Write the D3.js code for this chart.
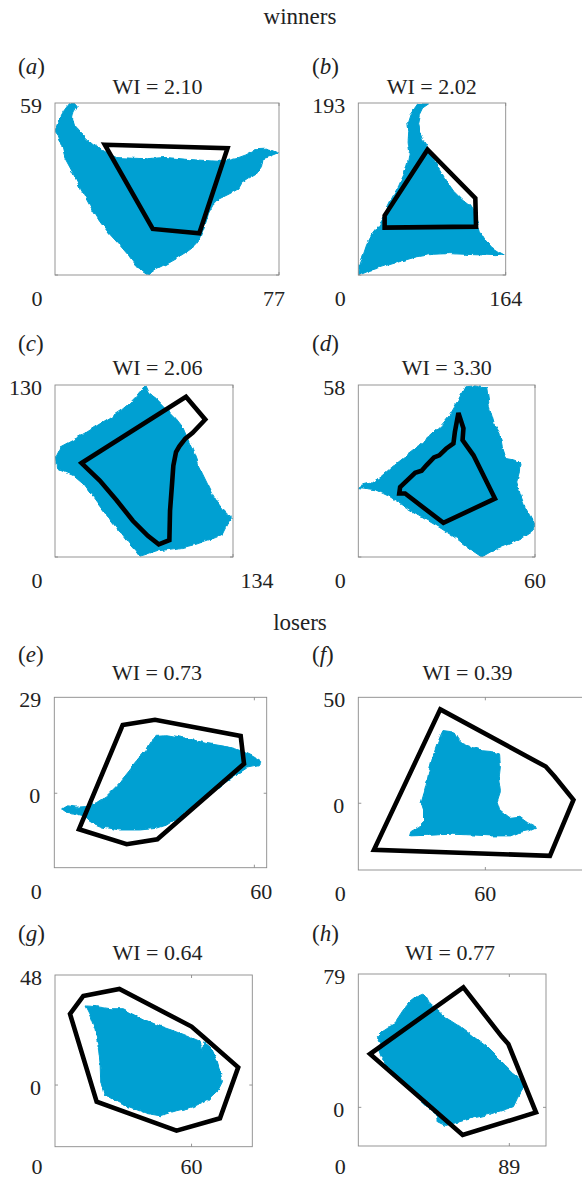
<!DOCTYPE html>
<html>
<head>
<meta charset="utf-8">
<script src="https://d3js.org/d3.v7.min.js"></script>
<style>
  body { margin: 0; background: #fff; }
  text { font-family: 'Liberation Serif', 'Times New Roman', serif; fill: #222; }
  .blob { fill: #00a0d2; stroke: #00a0d2; stroke-width: 1; }
  .hull { fill: none; stroke: #000; stroke-width: 4.6; stroke-linejoin: miter; }
  .frame { fill: none; stroke: #8a8a8a; stroke-width: 0.9; }
  .tick { stroke: #8a8a8a; stroke-width: 0.9; }
</style>
</head>
<body>
<script>
// ---- data -------------------------------------------------------------
var panelIds  = ["a", "b", "c", "d", "e", "f", "g", "h"];
var wiValues  = [2.10, 2.02, 2.06, 3.30, 0.73, 0.39, 0.64, 0.77];
var xTickVals = [77, 164, 134, 60, 60, 60, 60, 89];
var yTickVals = [59, 193, 130, 58, 29, 50, 48, 79];
var groups    = ["winners", "losers"];

// blue territory outlines (data units)
var blueA = [[0,49.3],[1.1,52.7],[2.9,56.1],[4.6,58.4],[6.5,59],[7.6,57.8],[6.5,55.9],[6,53.6],[6.8,51],[8.6,49],[10.8,46.7],[13.1,44.7],[15.4,43.3],[18.2,41.8],[21.1,40.3],[25.7,40.1],[31.4,39.9],[38.2,40.3],[46.2,39.6],[53,39.2],[58.2,38.9],[62.1,39.9],[65.6,41.2],[69,43],[73.5,43.2],[76.7,41.8],[73.5,40.5],[71.5,39.9],[71,37.2],[69.2,34.6],[66.5,33],[64.2,31.5],[63.1,29.6],[59.9,27.8],[56.4,26.1],[54.2,23.8],[52.8,21.2],[51.9,18.1],[50.7,14.9],[49.6,12],[48.2,10.1],[45,7.8],[41.6,5.7],[38.2,3.8],[34.8,2.1],[31.9,0],[30.2,1.1],[27.7,3.4],[25.4,6.6],[22.2,10.3],[18.8,14],[15.4,18.3],[12,23.8],[8.8,29.6],[6,35.3],[3.4,40.1],[2.3,44.4],[1.1,47.9]];
var blueB = [[78.1,191.9],[71.5,187.4],[67.9,179.9],[66,170.5],[67.9,161.2],[71.5,151.8],[77,143.2],[82.5,133.1],[89.9,119.9],[97.2,106.8],[106.4,93.7],[115.6,84.3],[123.6,78],[128.4,70.5],[132.1,60],[135.7,48.7],[141.2,39.4],[148.6,31.1],[155.9,26.2],[162.5,22.5],[152.2,21.7],[137.6,22.5],[119.2,23.2],[100.9,24],[82.5,23.2],[64.2,20.2],[45.9,15],[27.5,9.4],[12.8,4.9],[1.1,0],[1.8,11.2],[5.5,22.5],[9.2,33.7],[14.7,44.2],[20.9,52.5],[27.5,63],[31.9,75],[37.8,87],[45.1,100.4],[51.4,114.3],[55,127.4],[56.9,138.7],[55.4,149.9],[56.1,161.2],[55,171.7],[57.6,179.9],[62.4,186.7],[66,191.9]];
var blueC = [[68.6,129.2],[71.1,123.7],[76.1,119.9],[81.1,114.8],[86.1,109.7],[91.1,104.7],[96.1,98.3],[99.8,89.5],[103.6,80.6],[107.3,70.5],[111.1,62.8],[114.8,55.2],[118.5,47.6],[122.3,41.3],[126,36.2],[129.8,32.4],[133.5,29.9],[131,26.9],[128.5,22.3],[126,17.2],[121,14.7],[113.6,12.2],[106.1,9.6],[96.1,7.1],[86.1,5.8],[76.1,4.6],[68.6,2],[63.6,0.5],[60.6,4.6],[54.9,10.9],[46.2,22.3],[36.2,35],[28.7,45.1],[21.2,55.2],[13.7,61.6],[6.2,64.9],[1.2,67.4],[0.2,76],[3.7,83.1],[12.5,87.8],[21.2,92.6],[31.2,99],[41.2,105.2],[49.9,111],[56.2,116.3],[60.6,120.8],[64.1,125.2]];
var blueD = [[36.2,57.4],[39.6,57.7],[43.6,56.9],[44.5,50.7],[46.1,45],[48.1,41.7],[48.9,37.2],[50.2,33.2],[52.9,32.7],[54.9,31.8],[54.7,28.7],[53.8,25.3],[54.9,21.4],[56.6,16.9],[58.6,13.3],[60,11.8],[59.8,9.2],[56.1,6.8],[51.5,4.5],[45.9,2.3],[41.9,0],[38.5,2.3],[33.4,6.2],[27.7,9.9],[22.1,13.2],[16.4,16.7],[10.8,20.3],[5.7,22.7],[0,23.4],[1.1,24.2],[4.5,25],[7.9,27.3],[11.3,30.2],[15.9,33.8],[20.4,37.2],[24.3,40.8],[28.3,44.5],[31.1,47.9],[33.4,51.8],[35.1,55.2]];
var blueE = [[2.2,-4.7],[3.7,-3.8],[6.7,-4.2],[9.9,-4],[12.7,-2.8],[15.7,-0.8],[18.7,2.2],[21.7,5.8],[24.7,9.6],[27.7,13.1],[29.2,15.9],[30.9,17.5],[33.7,17.7],[39.7,16.6],[45.7,15.1],[51.7,14.1],[55.9,12.9],[59.7,11.1],[61.9,9.6],[61.2,8.3],[57.7,7.6],[53.7,5],[49.7,2],[45.7,-1],[41.7,-4],[37.7,-7],[33.7,-9.6],[30.7,-10.6],[25.7,-11.1],[19.7,-11.1],[14.7,-10.3],[11.2,-8.9],[8.7,-6.8],[5.7,-6],[2.9,-5.6]];
var blueF = [[40,34.3],[45.3,33.6],[46.9,30.7],[49.8,28],[53.7,26.4],[58.5,24.8],[62.9,24.4],[66.7,23.3],[67.1,17.3],[66.4,11],[67.1,5.5],[65.6,0.8],[66.8,-3.1],[71.9,-7.1],[76.3,-6.6],[79.8,-9.1],[84.2,-11.3],[80.6,-12.9],[75.8,-13.8],[71.9,-15.4],[62.4,-15.4],[52.9,-14.9],[43.4,-14.6],[34,-15.1],[24.2,-15.4],[24.8,-13.4],[28.4,-11.3],[30.8,-8.6],[30.8,-3.1],[29.7,0.3],[31.1,5],[32.4,10.2],[33.6,16],[35.2,22],[37.4,28.3],[39,32.2]];
var blueG = [[13.2,34.5],[18.3,34.2],[24.2,33.3],[30,33.3],[34.4,31],[40.3,28.1],[46.1,25.7],[52,23.7],[57.8,21.4],[63.7,18.9],[64.9,15],[65.4,18.9],[68.8,16],[71,10.9],[72.5,5.8],[73.6,1.5],[71.7,-2.2],[67.3,-6.3],[60.8,-9.5],[53.4,-11.2],[46.1,-13.4],[40.3,-12.4],[34.4,-10.2],[27.8,-7.7],[21.5,-3.9],[20.1,1.5],[19.8,9.5],[19,16.7],[17.6,24],[15.4,30.1]];
var blueH = [[30.5,62.6],[34.4,65.6],[37.9,67],[40.3,65.2],[42.2,61.3],[46.2,57.7],[52.1,52.8],[59.9,47.8],[67.8,41.9],[75.6,36],[83.5,28.1],[91.4,20.2],[97.2,15.8],[99.2,13.2],[96.3,10.3],[93.7,5.3],[91.4,0.4],[85.5,-1.6],[77.6,-4],[69.7,-5.9],[61.9,-7.9],[56,-9.5],[51.1,-10.7],[46.6,-8.5],[45.8,-3.6],[40.3,0.8],[34.4,6.3],[26.5,14.2],[18.7,23.1],[13.8,29.1],[12,34],[13.2,37.9],[11.2,41.9],[14.3,44.9],[18.7,47.8],[22.6,51.8],[26.5,57.7]];

// black polygons (data units)
var hullA = [[17.1,44.7],[59.3,43.5],[49.6,14.3],[33.6,15.8]];
var hullB = [[77,140.6],[130.2,86.2],[131,54.3],[29.3,53.2],[29.3,66.7]];
var hullC = [[20,71],[98.6,121.1],[113.1,103.9],[103.6,93.8],[98.1,89.5],[93.6,83.6],[91.1,79.3],[89.1,69.2],[88.1,55.2],[86.6,35],[86.1,12.7],[78.1,9.6],[69.9,16],[58.6,27.4],[46.2,43.1],[33.7,57.8]];
var hullD = [[34,48.6],[35.7,43.4],[35.4,39.4],[39.1,34.3],[46.4,19.7],[28.9,11.5],[15.9,21.4],[13.9,21.4],[14.2,23.6],[19.3,28.4],[21.5,29.1],[23.2,31],[25.7,33.6],[27.5,34.3],[29.8,36.5],[32.3,38.3],[32.8,42.2]];
var hullE = [[20.5,20.6],[30.2,22.2],[55.9,17.3],[56.9,8.9],[30.9,-13.9],[21.7,-15.4],[7.4,-10.9]];
var hullF = [[38.7,44.3],[88.5,17.3],[92.7,12.6],[101.6,1.6],[90.5,-24.8],[7.4,-22]];
var hullG = [[12.4,38.8],[28.3,41.9],[60,25.5],[65.4,20.8],[80.5,7.7],[72.5,-14.5],[53.4,-19.9],[18.3,-7.3],[6.6,31]];
var hullH = [[61.9,71.1],[84.5,41.9],[88.4,37.5],[104.7,-3],[61.5,-16.4],[6.9,31.6]];

var blues = [blueA, blueB, blueC, blueD, blueE, blueF, blueG, blueH];
var hulls = [hullA, hullB, hullC, hullD, hullE, hullF, hullG, hullH];

// axis extents of each panel (data units)
var xDomains = [[0,77],[0,164],[0,134],[0,60],[0,63.7],[0,108],[0,86.7],[0,110.6]];
var yDomains = [[0,59],[0,193],[0,130],[0,58],[-22.5,29],[-31.5,50],[-26.9,48],[-22.9,79]];

// ---- layout (pixels) --------------------------------------------------
var boxes = [
  {x0: 55,    x1: 279,   y0: 103,   y1: 275,    tx: 157.5, ty: 94,  lx: 18,  ly: 74,  dx: -5},
  {x0: 358.3, x1: 505.7, y0: 103,   y1: 275,    tx: 431.7, ty: 94,  lx: 312, ly: 74,  dx: 0},
  {x0: 55,    x1: 233,   y0: 385,   y1: 557,    tx: 157.5, ty: 375, lx: 18,  ly: 351, dx: 24},
  {x0: 358.3, x1: 535,   y0: 385,   y1: 557,    tx: 446.7, ty: 375, lx: 312, ly: 351, dx: 0},
  {x0: 54.3,  x1: 266.7, y0: 697.3, y1: 867.7,  tx: 157,   ty: 680, lx: 18,  ly: 662, dx: 7},
  {x0: 358.3, x1: 587,   y0: 697.3, y1: 870,    tx: 467.5, ty: 680, lx: 312, ly: 662, dx: 0},
  {x0: 55,    x1: 252.3, y0: 975,   y1: 1146.7, tx: 157.5, ty: 960, lx: 18,  ly: 941, dx: 0},
  {x0: 358.3, x1: 546,   y0: 974,   y1: 1146,   tx: 450,   ty: 960, lx: 312, ly: 941, dx: 0}
];
var groupY = [24, 630];

var width = 582, height = 1180;
var fmt = d3.format(".2f");

var svg = d3.select("body").append("svg")
  .attr("width", width)
  .attr("height", height);

var defs = svg.append("defs");

// slightly ragged edges for the territories
var rough = defs.append("filter").attr("id", "rough")
  .attr("x", "-5%").attr("y", "-5%").attr("width", "110%").attr("height", "110%");
rough.append("feTurbulence")
  .attr("type", "fractalNoise").attr("baseFrequency", 0.13)
  .attr("numOctaves", 2).attr("seed", 4).attr("result", "noise");
rough.append("feDisplacementMap")
  .attr("in", "SourceGraphic").attr("in2", "noise").attr("scale", 4)
  .attr("xChannelSelector", "R").attr("yChannelSelector", "G");

svg.selectAll("text.group")
  .data(groups)
  .enter().append("text")
  .attr("class", "group")
  .attr("x", 300)
  .attr("y", function(d, i) { return groupY[i]; })
  .attr("text-anchor", "middle")
  .style("font-size", "23px")
  .text(function(d) { return d; });

panelIds.forEach(function(id, i) {
  var b = boxes[i];
  var x = d3.scaleLinear().domain(xDomains[i]).range([b.x0, b.x1]);
  var y = d3.scaleLinear().domain(yDomains[i]).range([b.y1, b.y0]);
  var line = d3.line()
    .x(function(d) { return x(d[0]); })
    .y(function(d) { return y(d[1]); })
    .curve(d3.curveLinearClosed);

  defs.append("clipPath").attr("id", "clip-" + id)
    .append("rect")
    .attr("x", b.x0).attr("y", b.y0)
    .attr("width", b.x1 - b.x0).attr("height", b.y1 - b.y0);

  var g = svg.append("g").attr("class", "panel");
  var plot = g.append("g").attr("clip-path", "url(#clip-" + id + ")");

  plot.append("path").attr("class", "blob")
    .attr("filter", "url(#rough)")
    .attr("d", line(blues[i]));
  plot.append("path").attr("class", "hull").attr("d", line(hulls[i]));

  g.append("rect").attr("class", "frame")
    .attr("x", b.x0).attr("y", b.y0)
    .attr("width", b.x1 - b.x0).attr("height", b.y1 - b.y0);

  // little inward ticks
  var xt = x(xTickVals[i]), yt = y(0);
  g.append("line").attr("class", "tick").attr("x1", xt).attr("x2", xt).attr("y1", b.y0).attr("y2", b.y0 + 3);
  g.append("line").attr("class", "tick").attr("x1", xt).attr("x2", xt).attr("y1", b.y1).attr("y2", b.y1 - 3);
  g.append("line").attr("class", "tick").attr("x1", b.x0).attr("x2", b.x0 + 3).attr("y1", yt).attr("y2", yt);
  g.append("line").attr("class", "tick").attr("x1", b.x1).attr("x2", b.x1 - 3).attr("y1", yt).attr("y2", yt);

  // panel letter
  var lt = g.append("text").attr("x", b.lx).attr("y", b.ly).style("font-size", "23px");
  lt.append("tspan").text("(");
  lt.append("tspan").style("font-style", "italic").text(id);
  lt.append("tspan").text(")");

  // title
  g.append("text")
    .attr("x", b.tx).attr("y", b.ty)
    .attr("text-anchor", "middle")
    .style("font-size", "22px")
    .text("WI = " + fmt(wiValues[i]));

  // y labels
  g.append("text")
    .attr("x", b.x0 - 13).attr("y", y(yTickVals[i]) + 9.5)
    .attr("text-anchor", "end")
    .style("font-size", "22px")
    .text(yTickVals[i]);
  if (yDomains[i][0] < 0) {
    g.append("text")
      .attr("x", b.x0 - 14).attr("y", y(0) + 9.5)
      .attr("text-anchor", "end")
      .style("font-size", "22px")
      .text("0");
  }

  // x labels
  var by = Math.min(b.y1 + 31, height - 6);
  g.append("text")
    .attr("x", b.x0 - 18).attr("y", by)
    .attr("text-anchor", "middle")
    .style("font-size", "22px")
    .text("0");
  g.append("text")
    .attr("x", x(xTickVals[i]) + b.dx).attr("y", by)
    .attr("text-anchor", "middle")
    .style("font-size", "22px")
    .text(xTickVals[i]);
});
</script>
</body>
</html>
